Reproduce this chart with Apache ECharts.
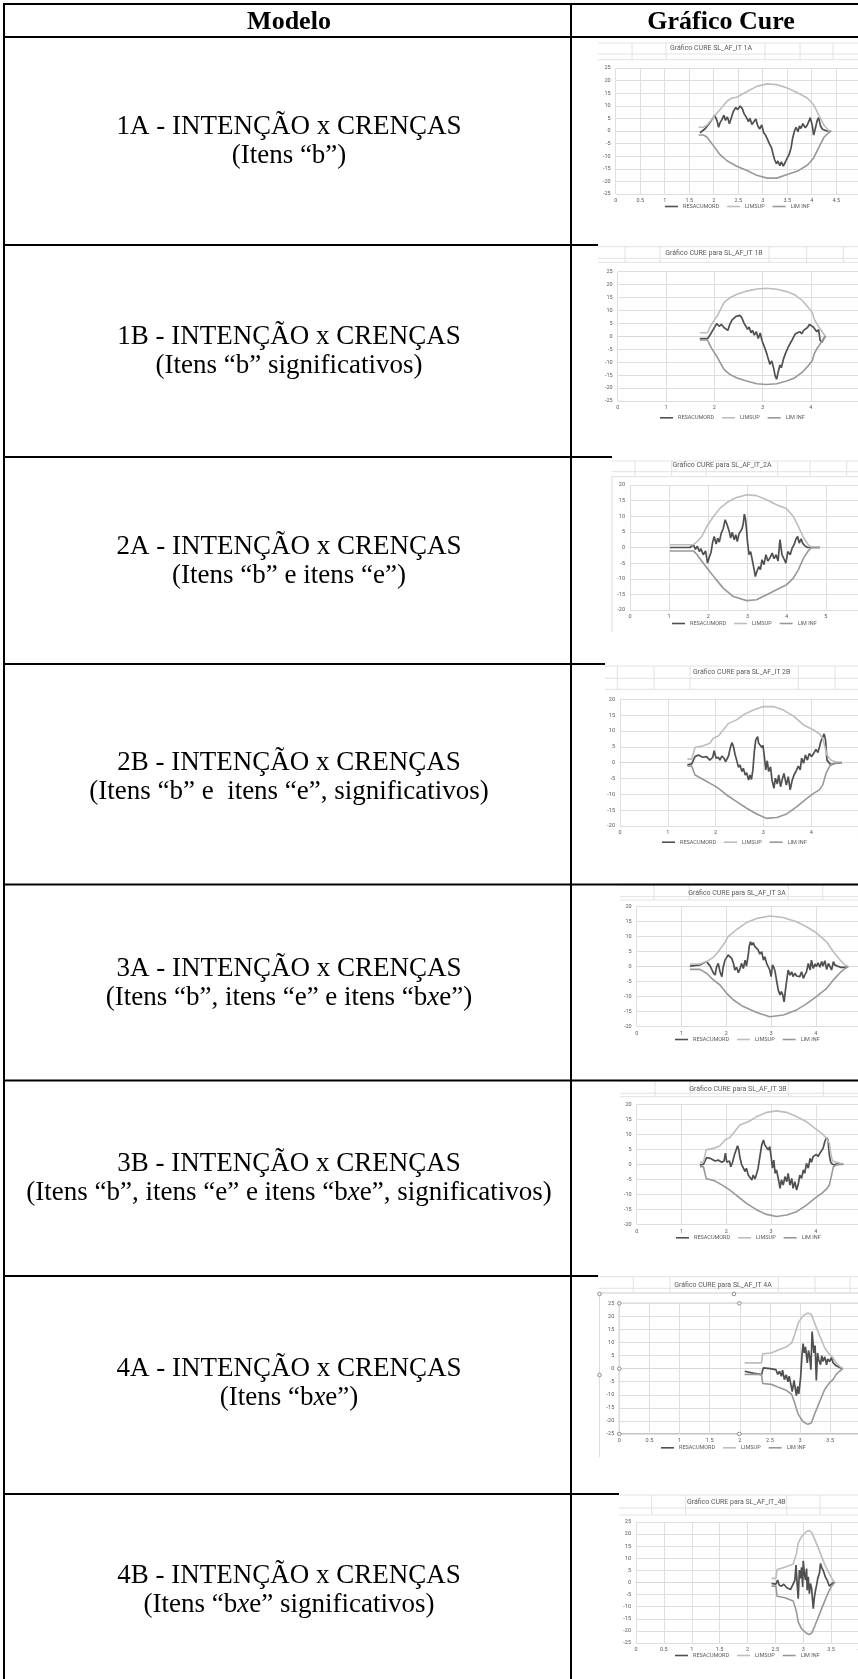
<!DOCTYPE html>
<html><head><meta charset="utf-8">
<script src="https://cdn.jsdelivr.net/npm/echarts@6/dist/echarts.min.js"></script>
<style>html,body{margin:0;padding:0;background:#fff}#c{width:858px;height:1679px}</style>
</head><body><div id="c"></div><script>
// ---------------- DATA ----------------
const headerLabels = ['Modelo', 'Gráfico Cure'];
const modelLine1 = ['1A - INTENÇÃO x CRENÇAS','1B - INTENÇÃO x CRENÇAS','2A - INTENÇÃO x CRENÇAS','2B - INTENÇÃO x CRENÇAS','3A - INTENÇÃO x CRENÇAS','3B - INTENÇÃO x CRENÇAS','4A - INTENÇÃO x CRENÇAS','4B - INTENÇÃO x CRENÇAS'];
const modelLine2 = ['(Itens “b”)','(Itens “b” significativos)','(Itens “b” e itens “e”)','(Itens “b” e  itens “e”, significativos)','(Itens “b”, itens “e” e itens “b{i|x}e”)','(Itens “b”, itens “e” e itens “b{i|x}e”, significativos)','(Itens “b{i|x}e”)','(Itens “b{i|x}e” significativos)'];
const chartTitles = ['Gráfico CURE SL_AF_IT 1A','Gráfico CURE para SL_AF_IT 1B','Gráfico CURE para SL_AF_IT_2A','Gráfico CURE para SL_AF_IT 2B','Gráfico CURE para SL_AF_IT 3A','Gráfico CURE para SL_AF_IT 3B','Gráfico CURE para SL_AF_IT 4A','Gráfico CURE para SL_AF_IT_4B'];
const seriesNames = ['RESACUMORD','LIMSUP','LIM INF'];
const xMax = [5,5,6,5,5,5,4,4];
const xInterval = [0.5,1,1,1,1,1,0.5,0.5];
const yLimit = [25,25,20,20,20,20,25,25];

const res1A = [[1.72,-0.7],[1.83,1.0],[1.92,3.3],[1.99,5.3],[2.02,6.3],[2.07,4.0],[2.10,1.5],[2.13,3.3],[2.17,4.6],[2.21,6.3],[2.24,4.2],[2.28,5.6],[2.32,2.9],[2.36,5.3],[2.40,7.7],[2.45,9.3],[2.49,8.5],[2.54,9.9],[2.58,9.0],[2.62,6.9],[2.67,5.3],[2.71,3.7],[2.74,5.0],[2.78,2.6],[2.82,2.4],[2.86,4.8],[2.90,2.0],[2.94,0.8],[2.98,2.4],[3.02,-0.7],[3.06,-1.7],[3.10,-3.4],[3.14,-5.2],[3.18,-6.6],[3.21,-9.0],[3.24,-11.2],[3.28,-13.0],[3.31,-11.9],[3.35,-13.8],[3.38,-12.2],[3.42,-13.9],[3.46,-12.4],[3.50,-10.8],[3.54,-9.3],[3.58,-6.6],[3.61,-2.9],[3.65,0.1],[3.68,1.5],[3.72,-0.3],[3.75,2.0],[3.78,1.0],[3.82,2.9],[3.87,1.3],[3.91,2.4],[3.95,4.2],[3.97,5.3],[4.01,2.4],[4.04,-1.6],[4.07,0.7],[4.11,4.0],[4.14,5.3],[4.18,2.0],[4.22,0.7],[4.26,1.1],[4.31,0],[4.38,0]];
const sup1A = [[1.69,1.5],[1.79,1.5],[1.86,2.3],[2.00,5.6],[2.13,8.5],[2.27,11.8],[2.37,13.1],[2.47,13.4],[2.68,15.7],[2.88,17.7],[3.09,18.7],[3.29,18.4],[3.50,17.1],[3.70,15.3],[3.91,13.1],[4.04,10.4],[4.14,6.5],[4.25,2.3],[4.35,0.1],[4.40,0]];
const inf1A = [[1.69,-1.6],[1.79,-1.6],[1.86,-2.4],[2.00,-6.0],[2.13,-9.4],[2.27,-11.8],[2.47,-14.0],[2.68,-15.7],[2.88,-17.6],[3.09,-18.7],[3.29,-18.7],[3.50,-17.3],[3.70,-16.0],[3.91,-13.6],[4.04,-10.7],[4.14,-6.7],[4.25,-2.5],[4.35,-0.6],[4.40,0]];

const res1B = [[1.70,-0.9],[1.86,-0.9],[1.92,0.8],[1.98,2.7],[2.05,4.9],[2.10,3.9],[2.15,4.6],[2.20,3.4],[2.24,4.0],[2.28,2.3],[2.32,4.6],[2.37,6.4],[2.41,5.7],[2.45,7.7],[2.49,7.0],[2.53,8.1],[2.57,7.2],[2.61,5.3],[2.65,4.0],[2.69,2.7],[2.72,3.6],[2.76,1.4],[2.79,2.3],[2.83,0.5],[2.87,1.8],[2.91,-0.8],[2.95,1.3],[2.99,-1.8],[3.03,-3.7],[3.08,-6.3],[3.12,-8.9],[3.15,-10.8],[3.19,-9.5],[3.23,-12.4],[3.26,-15.3],[3.29,-16.6],[3.32,-14.0],[3.36,-11.1],[3.39,-12.1],[3.43,-8.9],[3.48,-6.3],[3.52,-4.6],[3.56,-3.1],[3.60,-1.8],[3.64,-0.3],[3.68,1.0],[3.72,0.5],[3.77,1.8],[3.81,1.0],[3.85,2.3],[3.89,1.8],[3.93,3.4],[3.97,4.6],[4.01,5.2],[4.05,3.6],[4.09,4.1],[4.12,1.8],[4.16,2.6],[4.19,-1.5],[4.23,-2.3],[4.26,-1.0],[4.30,0]];
const sup1B = [[1.70,1.4],[1.86,1.4],[1.91,3.6],[1.98,5.7],[2.06,7.9],[2.13,10.4],[2.20,13.0],[2.32,14.9],[2.46,16.2],[2.67,17.5],[2.88,18.3],[3.08,18.6],[3.29,18.2],[3.50,17.3],[3.67,16.0],[3.83,13.7],[3.94,11.3],[4.03,9.1],[4.07,6.6],[4.13,4.6],[4.20,2.7],[4.26,1.0],[4.30,0]];
const inf1B = [[1.70,-1.4],[1.86,-1.4],[1.91,-3.5],[1.98,-5.7],[2.06,-8.0],[2.13,-10.4],[2.20,-12.8],[2.32,-14.7],[2.46,-16.0],[2.67,-17.3],[2.88,-18.3],[3.08,-18.6],[3.29,-18.3],[3.50,-17.3],[3.67,-16.0],[3.83,-13.7],[3.94,-11.5],[4.03,-9.3],[4.07,-6.7],[4.13,-4.6],[4.20,-2.7],[4.26,-1.2],[4.30,0]];

const res2A = [[1.02,0],[1.53,0],[1.62,0.9],[1.67,-0.6],[1.72,0.4],[1.77,-1.3],[1.81,-0.4],[1.87,-2.3],[1.93,-1.1],[1.98,-5.0],[2.03,-2.9],[2.07,-1.5],[2.11,1.7],[2.15,3.5],[2.20,1.1],[2.24,3.0],[2.28,1.7],[2.33,4.6],[2.38,6.0],[2.43,8.9],[2.48,7.3],[2.53,5.3],[2.57,3.0],[2.61,4.9],[2.66,2.5],[2.70,4.1],[2.74,1.9],[2.78,4.3],[2.83,3.8],[2.86,6.0],[2.89,7.5],[2.92,10.7],[2.95,8.9],[2.98,5.1],[3.00,1.7],[3.04,-2.3],[3.08,-1.3],[3.13,-4.5],[3.17,-7.1],[3.20,-9.3],[3.24,-7.7],[3.29,-6.1],[3.33,-7.1],[3.37,-3.9],[3.42,-5.5],[3.47,-2.3],[3.52,-4.3],[3.57,-3.4],[3.63,-1.8],[3.68,-3.6],[3.73,-2.3],[3.78,-4.3],[3.83,2.5],[3.88,-2.3],[3.93,-3.6],[3.98,-5.0],[4.03,-1.3],[4.09,-2.3],[4.14,-0.2],[4.19,0.9],[4.24,2.8],[4.28,3.5],[4.32,1.4],[4.37,2.8],[4.41,1.3],[4.46,0.6],[4.53,0],[4.85,0]];
const sup2A = [[1.02,0.9],[1.62,0.9],[1.70,1.7],[1.83,3.5],[1.96,6.7],[2.13,9.9],[2.30,12.6],[2.51,14.7],[2.72,16.0],[2.98,16.9],[3.23,16.6],[3.49,15.3],[3.74,13.7],[4.00,12.4],[4.17,9.9],[4.30,6.7],[4.43,3.2],[4.55,0.9],[4.64,0],[4.85,0]];
const inf2A = [[1.02,-1.1],[1.62,-1.1],[1.70,-2.1],[1.83,-4.3],[2.00,-7.1],[2.17,-9.8],[2.38,-13.0],[2.64,-15.7],[2.98,-17.0],[3.23,-16.7],[3.49,-15.1],[3.74,-13.5],[4.00,-11.9],[4.17,-9.8],[4.30,-7.1],[4.43,-3.4],[4.55,-1.1],[4.64,0],[4.85,0]];

const res2B = [[1.41,-0.7],[1.50,-0.4],[1.57,1.9],[1.64,2.4],[1.73,1.7],[1.81,1.9],[1.88,0.8],[1.94,1.7],[1.97,3.8],[2.01,1.4],[2.06,1.7],[2.09,0.8],[2.13,2.1],[2.18,1.3],[2.21,0.3],[2.24,-0.2],[2.27,2.1],[2.30,4.2],[2.34,6.3],[2.37,5.3],[2.41,2.4],[2.44,0.8],[2.48,-1.5],[2.51,-0.7],[2.55,-2.8],[2.58,-1.8],[2.62,-3.9],[2.65,-3.2],[2.69,-5.5],[2.72,-3.9],[2.75,-5.3],[2.78,-2.3],[2.81,3.5],[2.84,7.2],[2.88,8.2],[2.90,6.1],[2.93,6.7],[2.97,4.8],[2.99,5.5],[3.02,1.9],[3.05,-2.3],[3.08,0.6],[3.11,-2.8],[3.15,-1.3],[3.18,-5.5],[3.22,-8.1],[3.25,-4.9],[3.29,-6.7],[3.32,-3.9],[3.36,-7.6],[3.39,-5.5],[3.43,-3.4],[3.48,-7.1],[3.52,-4.4],[3.56,-8.6],[3.60,-5.7],[3.64,-3.9],[3.68,-2.8],[3.73,-1.1],[3.77,-2.3],[3.80,1.4],[3.84,-0.2],[3.88,2.4],[3.92,0.8],[3.96,2.9],[4.01,1.9],[4.05,2.9],[4.10,4.2],[4.14,3.2],[4.17,4.8],[4.20,6.6],[4.24,8.0],[4.27,9.1],[4.30,7.2],[4.33,0.8],[4.37,0.3],[4.41,-0.7],[4.50,-0.2],[4.64,0]];
const sup2B = [[1.41,1.1],[1.50,1.1],[1.57,4.8],[1.74,5.3],[1.88,6.1],[1.95,7.7],[2.06,8.4],[2.16,10.3],[2.27,12.4],[2.44,13.5],[2.58,15.1],[2.79,16.6],[3.00,17.7],[3.21,17.7],[3.42,16.6],[3.63,14.7],[3.84,11.9],[4.05,10.3],[4.17,9.1],[4.24,7.7],[4.29,4.8],[4.33,2.4],[4.41,0.8],[4.50,0.3],[4.64,0]];
const inf2B = [[1.41,-1.1],[1.50,-1.1],[1.57,-3.9],[1.74,-5.3],[1.95,-7.1],[2.06,-8.1],[2.23,-10.2],[2.44,-12.3],[2.65,-14.4],[2.86,-16.2],[3.07,-17.6],[3.28,-17.3],[3.49,-16.2],[3.70,-13.9],[3.91,-11.3],[4.05,-9.7],[4.17,-8.6],[4.24,-7.1],[4.31,-3.4],[4.40,-0.7],[4.50,-0.2],[4.64,0]];

const res3A = [[1.19,0.2],[1.41,0.6],[1.56,1.7],[1.64,0.2],[1.71,-2.0],[1.75,-2.8],[1.78,-0.2],[1.82,1.1],[1.86,-1.7],[1.90,-3.3],[1.93,-0.2],[1.97,2.2],[2.01,3.1],[2.04,3.9],[2.08,3.3],[2.12,2.8],[2.16,1.1],[2.19,-1.1],[2.23,-0.2],[2.27,-2.0],[2.30,-0.9],[2.34,1.1],[2.38,-0.6],[2.42,2.2],[2.45,0.2],[2.49,3.9],[2.51,6.7],[2.54,8.3],[2.57,7.2],[2.60,8.0],[2.64,6.7],[2.68,7.2],[2.71,5.6],[2.75,4.2],[2.79,5.0],[2.83,2.2],[2.86,3.3],[2.90,1.1],[2.94,1.7],[2.97,-1.1],[3.00,-3.3],[3.03,0.6],[3.06,-0.2],[3.09,-1.7],[3.12,-4.4],[3.16,-7.8],[3.20,-9.4],[3.23,-8.3],[3.26,-9.4],[3.29,-11.7],[3.32,-7.8],[3.35,-4.4],[3.38,-1.1],[3.42,-2.8],[3.46,-1.7],[3.49,-3.3],[3.53,-2.2],[3.57,-3.1],[3.61,-2.8],[3.64,-3.3],[3.68,-1.7],[3.72,-3.9],[3.75,-2.8],[3.79,-1.7],[3.83,1.1],[3.87,-1.1],[3.90,2.2],[3.94,-0.6],[3.98,0.9],[4.01,0],[4.05,1.3],[4.09,-0.2],[4.13,1.7],[4.16,0.2],[4.20,2.0],[4.24,-0.9],[4.28,1.1],[4.31,0.6],[4.35,-1.1],[4.39,1.7],[4.42,0.6],[4.48,0.2],[4.55,-0.2],[4.65,-0.2],[4.72,0]];
const sup3A = [[1.19,0.9],[1.41,0.9],[1.56,1.7],[1.71,3.1],[1.82,5.0],[1.93,7.2],[2.04,10.0],[2.23,12.4],[2.45,14.7],[2.68,16.1],[2.97,16.9],[3.27,16.4],[3.57,15.0],[3.79,13.3],[4.01,11.3],[4.24,8.3],[4.39,5.0],[4.54,2.2],[4.65,0.6],[4.72,0]];
const inf3A = [[1.19,-0.9],[1.41,-0.9],[1.56,-2.2],[1.71,-4.4],[1.86,-6.1],[2.01,-8.9],[2.16,-11.1],[2.38,-13.3],[2.68,-15.3],[2.97,-16.7],[3.27,-16.1],[3.57,-14.4],[3.79,-12.4],[4.01,-10.0],[4.24,-7.2],[4.39,-4.4],[4.54,-2.0],[4.65,-0.6],[4.72,0]];

const res3B = [[1.41,-0.2],[1.49,0],[1.56,2.2],[1.64,2.0],[1.75,1.1],[1.82,1.4],[1.90,0.7],[1.95,1.1],[1.98,3.7],[2.01,0.7],[2.07,1.1],[2.10,-0.8],[2.14,0.7],[2.18,3.1],[2.22,4.8],[2.25,6.2],[2.28,4.8],[2.30,2.6],[2.34,0],[2.38,-0.4],[2.42,-2.4],[2.45,-1.3],[2.49,-3.6],[2.53,-3.0],[2.57,-5.2],[2.60,-3.6],[2.64,-4.9],[2.68,-3.0],[2.71,-1.3],[2.75,2.6],[2.79,6.4],[2.83,8.1],[2.86,6.4],[2.90,7.0],[2.94,4.8],[2.97,5.9],[3.00,2.6],[3.03,-1.3],[3.06,1.4],[3.09,-3.0],[3.12,-1.9],[3.16,-4.7],[3.20,-8.0],[3.23,-5.2],[3.27,-6.9],[3.31,-4.1],[3.35,-5.8],[3.38,-3.0],[3.42,-6.9],[3.46,-4.7],[3.49,-8.0],[3.53,-5.8],[3.57,-8.6],[3.61,-6.3],[3.64,-3.6],[3.68,-4.7],[3.72,-1.9],[3.75,-3.0],[3.79,0.3],[3.83,-1.3],[3.87,2.0],[3.90,0.7],[3.94,2.6],[3.98,2.0],[4.01,3.3],[4.05,2.6],[4.09,3.7],[4.13,3.1],[4.16,5.3],[4.20,7.6],[4.24,8.9],[4.27,8.1],[4.30,3.1],[4.33,0.7],[4.37,0],[4.42,-0.2],[4.50,0.3],[4.61,0]];
const sup3B = [[1.41,0.7],[1.49,0.7],[1.55,4.8],[1.71,5.3],[1.86,6.2],[1.97,8.1],[2.08,8.9],[2.19,10.9],[2.30,13.1],[2.49,14.2],[2.68,15.9],[2.90,17.3],[3.12,17.8],[3.35,17.3],[3.57,15.9],[3.79,14.2],[3.98,12.0],[4.13,10.3],[4.24,8.7],[4.30,7.0],[4.33,3.7],[4.37,1.1],[4.46,0.7],[4.61,0]];
const inf3B = [[1.41,-0.8],[1.49,-0.8],[1.55,-4.7],[1.75,-5.6],[1.93,-7.1],[2.08,-8.6],[2.23,-10.4],[2.45,-13.0],[2.68,-15.2],[2.90,-16.7],[3.12,-17.4],[3.35,-16.9],[3.57,-15.8],[3.79,-13.6],[3.98,-11.3],[4.13,-9.7],[4.24,-8.2],[4.30,-6.9],[4.35,-3.6],[4.39,-0.8],[4.46,-0.2],[4.61,0]];

const res4A = [[2.08,-1.0],[2.22,-1.7],[2.36,-2.3],[2.39,0.3],[2.50,0],[2.60,-0.4],[2.63,-2.2],[2.66,-1.0],[2.69,-2.9],[2.71,-0.6],[2.74,-4.2],[2.77,-2.4],[2.80,-5.0],[2.82,-2.9],[2.85,-6.3],[2.87,-8.8],[2.90,-4.5],[2.92,-7.5],[2.94,-10.3],[2.96,-6.8],[2.98,-9.6],[3.01,-3.2],[3.03,4.5],[3.05,9.6],[3.07,6.0],[3.09,8.3],[3.12,2.2],[3.14,7.0],[3.16,4.5],[3.18,-0.4],[3.20,14.2],[3.23,6.0],[3.25,8.8],[3.27,-4.5],[3.29,6.0],[3.31,3.4],[3.34,1.5],[3.36,5.0],[3.38,2.8],[3.41,4.5],[3.44,1.5],[3.46,3.7],[3.49,2.7],[3.52,4.2],[3.55,2.2],[3.60,1.1],[3.66,0.4],[3.71,0]];
const sup4A = [[2.08,2.2],[2.36,2.2],[2.38,5.7],[2.52,6.0],[2.66,7.3],[2.77,8.3],[2.86,9.8],[2.91,13.0],[2.97,17.5],[3.05,20.3],[3.13,21.3],[3.19,20.7],[3.24,17.5],[3.33,12.4],[3.41,7.9],[3.49,5.4],[3.55,4.1],[3.60,2.2],[3.66,0.9],[3.71,0]];
const inf4A = [[2.08,-2.2],[2.36,-2.2],[2.38,-5.7],[2.52,-6.0],[2.66,-7.3],[2.77,-8.3],[2.86,-9.8],[2.91,-13.0],[2.97,-17.5],[3.05,-20.3],[3.13,-21.3],[3.19,-20.7],[3.24,-17.5],[3.33,-12.4],[3.41,-7.9],[3.49,-5.4],[3.55,-4.1],[3.60,-2.2],[3.66,-0.9],[3.71,0]];

const res4B = [[2.43,-0.4],[2.51,-0.7],[2.54,1.0],[2.57,-1.1],[2.61,-1.5],[2.65,-0.7],[2.70,-2.1],[2.73,-1.5],[2.77,-2.9],[2.81,-1.1],[2.83,-1.8],[2.85,1.0],[2.87,7.2],[2.89,-0.4],[2.91,-6.7],[2.93,5.1],[2.95,1.7],[2.97,6.3],[2.99,-1.8],[3.00,9.0],[3.02,3.8],[3.04,1.0],[3.06,5.8],[3.07,-3.2],[3.09,2.4],[3.11,-4.6],[3.13,-0.4],[3.15,-2.5],[3.16,-5.3],[3.18,-10.8],[3.20,-6.0],[3.22,-3.2],[3.24,-1.1],[3.26,1.7],[3.29,3.8],[3.31,7.9],[3.33,6.3],[3.36,4.9],[3.38,3.5],[3.40,2.1],[3.43,1.0],[3.45,-0.4],[3.47,-1.5],[3.50,-1.1],[3.53,-0.1],[3.57,0]];
const sup4B = [[2.43,1.7],[2.51,1.7],[2.53,5.4],[2.67,6.3],[2.82,7.6],[2.88,12.1],[2.91,16.3],[2.97,19.0],[3.06,21.1],[3.10,21.5],[3.15,20.7],[3.21,17.6],[3.27,14.2],[3.33,10.7],[3.39,7.2],[3.44,4.9],[3.50,2.1],[3.55,0.3],[3.57,0]];
const inf4B = [[2.43,-1.5],[2.51,-1.5],[2.53,-5.7],[2.67,-6.3],[2.82,-7.6],[2.88,-12.2],[2.91,-16.4],[2.97,-19.2],[3.06,-21.0],[3.10,-21.5],[3.15,-21.0],[3.21,-17.8],[3.27,-14.3],[3.33,-10.8],[3.39,-7.4],[3.44,-4.6],[3.50,-1.8],[3.55,-0.4],[3.57,0]];

const cureData = [[res1A,sup1A,inf1A],[res1B,sup1B,inf1B],[res2A,sup2A,inf2A],[res2B,sup2B,inf2B],[res3A,sup3A,inf3A],[res3B,sup3B,inf3B],[res4A,sup4A,inf4A],[res4B,sup4B,inf4B]];

// ---------------- LAYOUT / STYLE ----------------
const layout = [
  {grid:[615.7,68,245,126],     title:[711,48],      legend:[665,207]},
  {grid:[617.7,271.7,241.5,129.3], title:[714,253],  legend:[660,418.3]},
  {grid:[630,485,235,125],      title:[722,465],     legend:[672,624]},
  {grid:[620,699.3,239,126.7],  title:[741.7,672.7], legend:[662,842.7]},
  {grid:[636.7,906.7,224,120],  title:[737,893.3],   legend:[675,1040]},
  {grid:[636.7,1104.3,224,120], title:[738,1089],    legend:[676,1238.3]},
  {grid:[619.3,1303.3,241,130.7], title:[723,1285],  legend:[661,1448.3]},
  {grid:[636,1522,223,121],     title:[736.3,1502],  legend:[675,1656]}
];
const cells = [
  {h:[43,54,59.7], x0:598, v:[632,666,765,800,833]},
  {h:[246.7,258.3,262.3], x0:598, v:[625,660,769,806.7,843.3]},
  {h:[461,471.7,476.7], x0:612, v:[635,671.7,706,777.7,810,846.7]},
  {h:[666,678.3,689.3], x0:605, v:[617.3,654,690,798.3,835]},
  {h:[885,896.7,900], x0:620, v:[654,689.3,788.3,822.7]},
  {h:[1081,1093.3,1096.7], x0:620, v:[655,690,788.3,823.3]},
  {h:[1276.7,1288.3,1292.7], x0:598, v:[633.3,670,778.3,815,850]},
  {h:[1495,1508,1515], x0:619, v:[651.7,685.7,786.7,820]}
];
const rowLines = [[245,598],[457,612],[664,605],[884.5,858],[1080.5,858],[1276,598],[1494,619]];
const rowCenters = [141,351,560.5,777,982.5,1178,1382.5,1590];
const colors = ['#505050','#bdbdbd','#989898'];
const widths = [1.7,1.6,1.6];
const smallFont = 'Roboto, "Liberation Sans", sans-serif';
const serif = '"Liberation Serif", "Times New Roman", serif';
const leftX = 4;

const grids = [], xAxes = [], yAxes = [], series = [], legends = [], graphics = [];
layout.forEach((L, i) => {
  grids.push({left:L.grid[0], top:L.grid[1], width:L.grid[2], height:L.grid[3], containLabel:false,
    outerBoundsMode:'none',
    show: i === 6, borderColor:'#8a8a8a', borderWidth:1, backgroundColor:'transparent'});
  xAxes.push({type:'value', gridIndex:i, min:0, max:xMax[i], interval:xInterval[i],
    axisLine:{onZero:true, lineStyle:{color:'#d9d9d9', width:1}}, axisTick:{show:false},
    axisLabel:{fontSize:5.5, color:'#595959', margin:4, fontFamily:smallFont},
    splitLine:{show:true, lineStyle:{color:'#dedede', width:1}}});
  yAxes.push({type:'value', gridIndex:i, min:-yLimit[i], max:yLimit[i], interval:5,
    axisLine:{show:false}, axisTick:{show:false},
    axisLabel:{fontSize:5.5, color:'#595959', margin:5, fontFamily:smallFont},
    splitLine:{show:true, lineStyle:{color:'#dedede', width:1}}});
  seriesNames.forEach((nm, k) => {
    series.push({type:'line', name:nm, xAxisIndex:i, yAxisIndex:i, data:cureData[i][k],
      symbol:'none', showSymbol:false, color:colors[k], lineStyle:{color:colors[k], width:widths[k]},
      z: 3 + k, animation:false, silent:true});
  });
  legends.push({data:seriesNames, left:L.legend[0], top:L.legend[1]-3.5, icon:'rect', itemWidth:13, itemHeight:1.6,
    itemGap:8, padding:0, selectedMode:false, textStyle:{fontSize:5.5, color:'#595959', fontFamily:smallFont}});
  graphics.push({type:'text', silent:true, z:10, style:{text:chartTitles[i], x:L.title[0], y:L.title[1],
    textAlign:'center', textVerticalAlign:'middle', font:'7px ' + smallFont, fill:'#595959'}});
  const C = cells[i];
  C.h.forEach(y => graphics.push({type:'line', silent:true, z:1, shape:{x1:C.x0, y1:y, x2:858, y2:y}, style:{stroke:'#e2e2e2', lineWidth:1}}));
  C.v.forEach(x => graphics.push({type:'line', silent:true, z:1, shape:{x1:x, y1:C.h[0], x2:x, y2:C.h[C.h.length-1]}, style:{stroke:'#e2e2e2', lineWidth:1}}));
});

// table frame
const black = '#000';
graphics.push({type:'line', silent:true, z:20, shape:{x1:leftX, y1:4, x2:858, y2:4}, style:{stroke:black, lineWidth:2}});
graphics.push({type:'line', silent:true, z:20, shape:{x1:leftX, y1:37, x2:858, y2:37}, style:{stroke:black, lineWidth:2}});
rowLines.forEach(r => graphics.push({type:'line', silent:true, z:20, shape:{x1:leftX, y1:r[0], x2:r[1], y2:r[0]}, style:{stroke:black, lineWidth:2}}));
graphics.push({type:'line', silent:true, z:20, shape:{x1:leftX, y1:3, x2:leftX, y2:1679}, style:{stroke:black, lineWidth:2}});
graphics.push({type:'line', silent:true, z:20, shape:{x1:571, y1:3, x2:571, y2:1679}, style:{stroke:black, lineWidth:2}});

// header
graphics.push({type:'text', silent:true, z:20, style:{text:headerLabels[0], x:289, y:22.5, textAlign:'center', textVerticalAlign:'middle', font:'bold 26px ' + serif, fill:'#000'}});
graphics.push({type:'text', silent:true, z:20, style:{text:headerLabels[1], x:721, y:22.5, textAlign:'center', textVerticalAlign:'middle', font:'bold 26px ' + serif, fill:'#000'}});

// model descriptions
modelLine1.forEach((t, i) => {
  graphics.push({type:'text', silent:true, z:20, style:{text:t, x:289, y:rowCenters[i]-14, textAlign:'center', textVerticalAlign:'middle', font:'27px ' + serif, fill:'#000'}});
  graphics.push({type:'text', silent:true, z:20, style:{text:modelLine2[i], x:289, y:rowCenters[i]+15, textAlign:'center', textVerticalAlign:'middle', font:'27px ' + serif, fill:'#000',
    rich:{i:{fontStyle:'italic', fontSize:27, fontFamily:serif, fill:'#000'}}}});
});

// chart-area frames (light) for 2A and 4A, and selection handles on 4A
graphics.push({type:'line', silent:true, z:1, shape:{x1:612, y1:475, x2:612, y2:632}, style:{stroke:'#dcdcdc', lineWidth:1}});
graphics.push({type:'line', silent:true, z:1, shape:{x1:599.5, y1:1293, x2:599.5, y2:1457}, style:{stroke:'#dcdcdc', lineWidth:1}});
graphics.push({type:'line', silent:true, z:1, shape:{x1:599.5, y1:1293.5, x2:858, y2:1293.5}, style:{stroke:'#e6e6e6', lineWidth:1}});
[[619.3,1303.3],[739.3,1303.3],[619.3,1368.7],[619.3,1434],[739.3,1434],[734,1294],[599.5,1294],[599.5,1375]].forEach(p =>
  graphics.push({type:'circle', silent:true, z:30, shape:{cx:p[0], cy:p[1], r:1.8}, style:{fill:'#fff', stroke:'#8c8c8c', lineWidth:1}}));

const chart = echarts.init(document.getElementById('c'), null, {renderer:'canvas'});
chart.setOption({
  animation:false,
  backgroundColor:'#fff',
  grid:grids, xAxis:xAxes, yAxis:yAxes, series:series, legend:legends, graphic:graphics
});
</script></body></html>
